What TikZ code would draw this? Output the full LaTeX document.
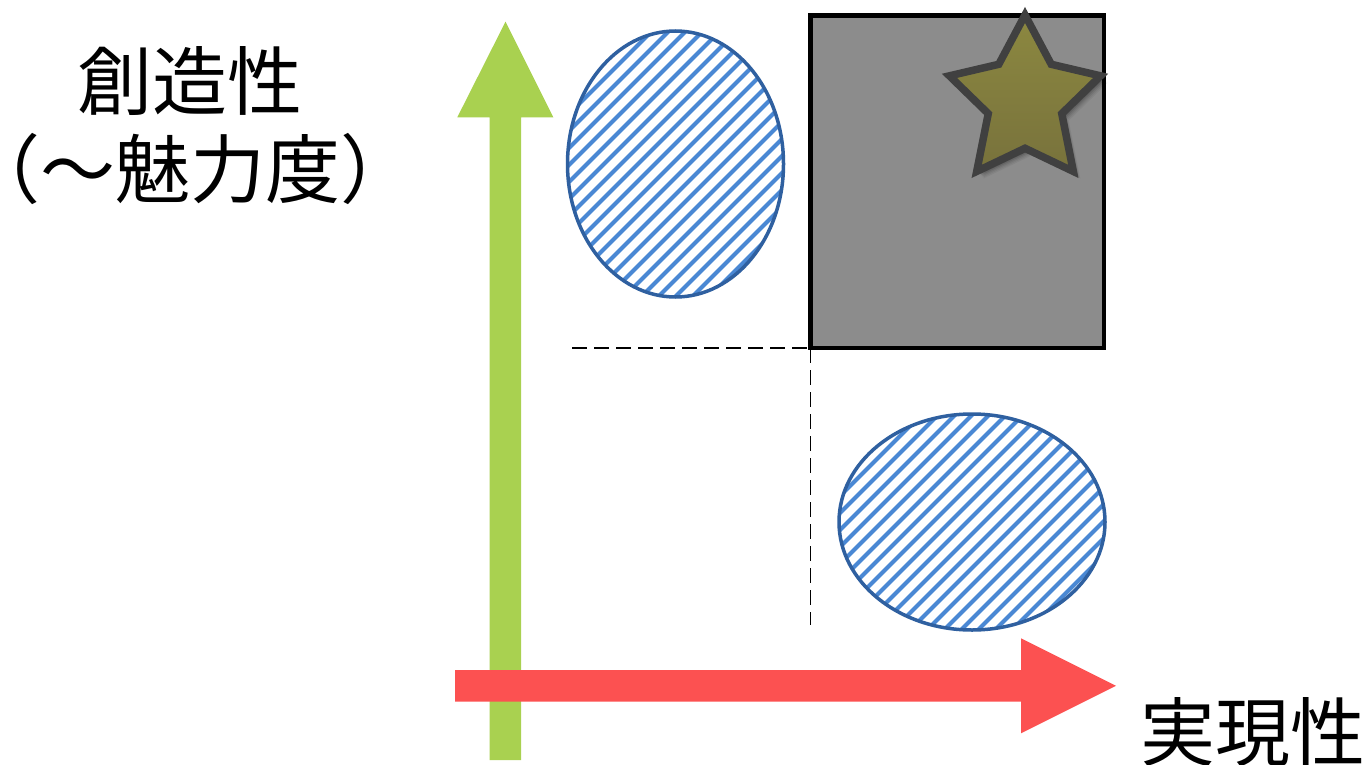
\documentclass[tikz,border=0pt]{standalone}
\usepackage{fontspec}
\newfontfamily\jpfont{Noto Sans CJK JP}
\newfontfamily\jphalf[RawFeature=+halt]{Noto Sans CJK JP}
\definecolor{axgreen}{RGB}{169,209,80}
\definecolor{axred}{RGB}{252,81,81}
\definecolor{ellline}{RGB}{47,96,160}
\definecolor{stripe}{RGB}{74,136,212}
\definecolor{boxgray}{RGB}{140,140,140}
\definecolor{starline}{RGB}{64,64,64}
\definecolor{startop}{RGB}{140,136,64}
\definecolor{starbot}{RGB}{120,114,60}
\tikzset{
  label/.style={font=\jpfont\fontsize{75}{87}\selectfont, inner sep=0pt},
  guide/.style={draw=black, line width=1.5pt, dash pattern=on 15pt off 7pt},
  ellborder/.style={draw=ellline, line width=3.5pt},
  stripes/.style={draw=stripe, line width=4pt},
}
\newcommand\starpath{(0,-81) -- (25,-34) -- (72,-23) -- (35,13) -- (46,68)
    -- (0,46) -- (-46,68) -- (-35,13) -- (-72,-23) -- (-25,-34) -- cycle}
\begin{document}
\begin{tikzpicture}[x=1pt,y=-1pt]
\useasboundingbox (0,0) rectangle (1367,765);
\fill[white] (0,0) rectangle (1367,765);

% coordinates
\coordinate (rectNW) at (810.5,15.5);
\coordinate (rectSE) at (1104,348);
\coordinate (rectSW) at (810.5,348);
\coordinate (hstart) at (572,348);
\coordinate (vend) at (810.5,625);

% dashed guides
\draw[guide] (hstart) -- (rectSW);
\draw[guide] (rectSW) -- (vend);

% upper-left ellipse (striped)
\begin{scope}
  \clip (675.5,164) ellipse [x radius=108, y radius=133];
  \foreach \k in {-30,...,40} {
    \draw[stripes] (300+\k*17,400) -- (700+\k*17,0);
  }
\end{scope}
\draw[ellborder] (675.5,164) ellipse [x radius=108, y radius=133];

% lower-right ellipse (striped)
\begin{scope}
  \clip (972,522) ellipse [x radius=133, y radius=108];
  \foreach \k in {-30,...,40} {
    \draw[stripes] (604+\k*17,800) -- (1004+\k*17,400);
  }
\end{scope}
\draw[ellborder] (972,522) ellipse [x radius=133, y radius=108];

% gray box
\draw[fill=boxgray, draw=black, line width=4.5pt] (rectNW) rectangle (rectSE);

% star: soft shadow
\foreach \s/\o in {7/0.05,6/0.06,5/0.08,4/0.10,3/0.12} {
  \fill[black, opacity=\o, shift={(1025+\s,100+\s)}, scale=1.05] \starpath;
}
% star
\path[shift={(1025,100)}, scale=1.05, top color=startop, bottom color=starbot,
      draw=starline, line width=7.5pt, line join=miter] \starpath;

% green axis arrow (vertical)
\fill[axgreen] (489.5,760) -- (521,760) -- (521,117.3) -- (553.3,117.3)
  -- (505.5,21.7) -- (457.3,117.3) -- (489.5,117.3) -- cycle;

% red axis arrow (horizontal)
\fill[axred] (455,670) -- (1021,670) -- (1021,638.3) -- (1116,685.8)
  -- (1021,733.3) -- (1021,701.7) -- (455,701.7) -- cycle;

% labels
\node[label, anchor=base] (creat) at (190,110) {創造性};
\node[label, anchor=base] (charm) at (190,197) {{\jphalf （}～魅力度{\jphalf ）}};
\node[label, anchor=base west] (feas) at (1140,760) {実現性};
\end{tikzpicture}
\end{document}
